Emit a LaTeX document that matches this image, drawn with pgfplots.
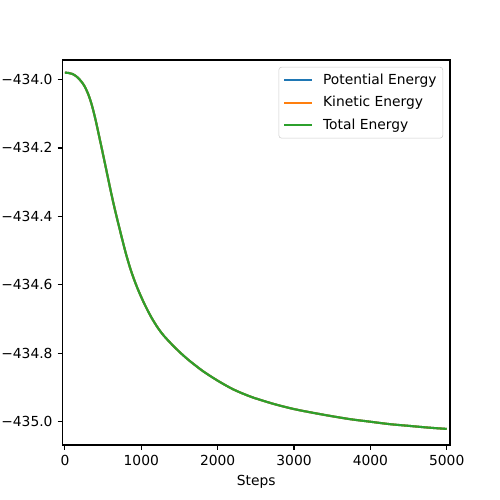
\documentclass[border=0pt]{standalone}
\usepackage{pgfplots}
\pgfplotsset{compat=1.18}
\usepackage{fontspec}
\setmainfont{DejaVu Sans}
\definecolor{c0}{HTML}{1F77B4}
\definecolor{c1}{HTML}{FF7F0E}
\definecolor{c2}{HTML}{2CA02C}
\begin{document}
\fontsize{10}{12}\selectfont
\begin{tikzpicture}
\useasboundingbox (-0.625in,-0.55in) rectangle (4.375in,4.45in);
\begin{axis}[
  at={(0,0)}, anchor=south west,
  scale only axis, width=3.875in, height=3.85in,
  xmin=-32, xmax=5043, ymin=-435.068, ymax=-433.943,
  axis line style={line width=0.8pt},
  tick pos=left, tick align=outside,
  major tick length=3.5pt,
  every tick/.style={line width=0.8pt, black},
  xtick={0,1000,2000,3000,4000,5000},
  xticklabels={0,1000,2000,3000,4000,5000},
  ytick={-435,-434.8,-434.6,-434.4,-434.2,-434},
  yticklabels={−435.0,−434.8,−434.6,−434.4,−434.2,−434.0},
  ticklabel style={font=\fontsize{10}{12}\selectfont},
  xticklabel style={inner sep=0pt, yshift=-3.5pt, anchor=north},
  yticklabel style={inner sep=0pt, xshift=-3.5pt, anchor=east},
  xlabel={Steps},
  xlabel style={font=\fontsize{10}{12}\selectfont, inner sep=0pt, yshift=-7pt},
  legend cell align=left,
  legend image code/.code={\draw[#1, line width=1.5pt] (0pt,0pt) -- (20pt,0pt);},
  legend style={at={(1,1)}, anchor=north east, xshift=-5pt, yshift=-5pt,
    draw=black!20, rounded corners=2pt, fill=white, fill opacity=0.8, text opacity=1,
    font=\fontsize{10}{12}\selectfont, row sep=4pt, column sep=6pt,
    inner xsep=3pt, inner ysep=3.5pt,
    nodes={inner sep=1.5pt}},
]
\pgfplotstableread{
x y
0 -433.980
50 -433.981
100 -433.984
150 -433.991
200 -434.002
250 -434.017
300 -434.040
350 -434.073
400 -434.117
450 -434.168
500 -434.220
550 -434.273
600 -434.326
650 -434.376
700 -434.422
750 -434.467
800 -434.510
850 -434.548
900 -434.581
950 -434.610
1000 -434.636
1050 -434.660
1100 -434.682
1150 -434.702
1200 -434.720
1250 -434.736
1300 -434.750
1400 -434.774
1500 -434.796
1600 -434.816
1700 -434.834
1800 -434.851
1900 -434.866
2000 -434.880
2100 -434.893
2200 -434.905
2300 -434.915
2400 -434.924
2500 -434.932
2750 -434.949
3000 -434.963
3250 -434.974
3500 -434.984
3750 -434.993
4000 -435.000
4250 -435.007
4500 -435.012
4750 -435.017
5000 -435.021
}\data
\addplot[c0, line width=1.5pt, smooth] table {\data};
\addlegendentry{Potential Energy}
\addplot[c1, line width=1.5pt, smooth] table {\data};
\addlegendentry{Kinetic Energy}
\addplot[c2, line width=1.5pt, smooth] table {\data};
\addlegendentry{Total Energy}
\end{axis}
\end{tikzpicture}
\end{document}
